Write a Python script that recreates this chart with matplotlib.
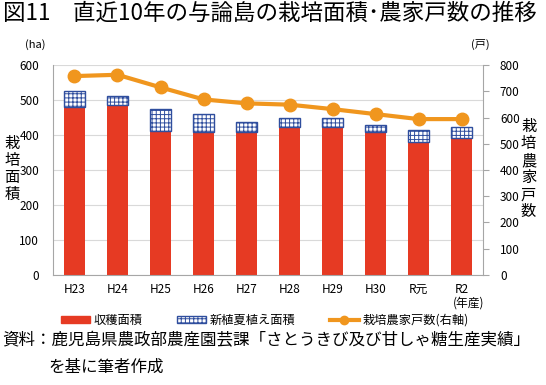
import matplotlib
matplotlib.use("Agg")
import matplotlib.pyplot as plt
from matplotlib.patches import Patch
from matplotlib.lines import Line2D
import numpy as np

plt.rcParams['font.family'] = ['Noto Sans CJK JP', 'DejaVu Sans']
plt.rcParams['hatch.linewidth'] = 0.7

years = ['H23', 'H24', 'H25', 'H26', 'H27', 'H28', 'H29', 'H30', 'R元', 'R2']
harvest = [481, 487, 412, 408, 410, 423, 422, 408, 379, 392]
total_area = [526, 511, 474, 460, 437, 448, 448, 428, 414, 422]
new_planting = [t - h for t, h in zip(total_area, harvest)]
farmers = [758, 763, 715, 669, 654, 649, 632, 613, 594, 594]

red = '#E63A23'
blue = '#2F4E9E'
orange = '#F0961E'
gray = '#A6A6A6'

fig = plt.figure(figsize=(5.46, 3.85), dpi=100)
ax = fig.add_axes([0.097, 0.286, 0.788, 0.545])
x = np.arange(len(years))
w = 0.49
ax.bar(x, harvest, width=w, color=red, zorder=2)
ax.bar(x, new_planting, width=w, bottom=harvest, facecolor='white',
       edgecolor=blue, hatch='++++', linewidth=1.0, zorder=2)
ax.set_ylim(0, 600)
ax.set_yticks(range(0, 601, 100))
ax.set_xlim(-0.5, len(years) - 0.5)
ax.set_xticks(x)
ax.set_xticklabels(years, fontsize=8)
ax.tick_params(axis='y', length=0, labelsize=8.5, pad=10)
ax.tick_params(axis='x', length=0, labelsize=8.5, pad=6)
ax.grid(axis='y', color='#D9D9D9', linewidth=0.8, zorder=0)
for s in ['top', 'right']:
    ax.spines[s].set_visible(False)
ax.spines['left'].set_color(gray)
ax.spines['bottom'].set_color(gray)

ax2 = ax.twinx()
ax2.plot(x, farmers, color=orange, linewidth=3, marker='o', markersize=9, zorder=3)
ax2.set_ylim(0, 800)
ax2.set_yticks(range(0, 801, 100))
ax2.tick_params(axis='y', length=4, color=gray, labelsize=8.5, pad=8)
for s in ['top', 'left', 'bottom']:
    ax2.spines[s].set_visible(False)
ax2.spines['right'].set_color(gray)

fig.text(0.005, 0.995, '図11　直近10年の与論島の栽培面積･農家戸数の推移',
         fontsize=16.2, ha='left', va='top')
fig.text(0.045, 0.885, '(ha)', fontsize=8, ha='left', va='center')
fig.text(0.862, 0.885, '(戸)', fontsize=8, ha='left', va='center')
fig.text(0.022, 0.56, '栽\n培\n面\n積', fontsize=11, ha='center', va='center',
         linespacing=1.0)
fig.text(0.968, 0.56, '栽\n培\n農\n家\n戸\n数', fontsize=11, ha='center', va='center',
         linespacing=1.0)
fig.text(0.83, 0.213, '(年産)', fontsize=8.5, ha='left', va='center')

handles = [Patch(facecolor=red, edgecolor=red),
           Patch(facecolor='white', edgecolor=blue, hatch='++++'),
           Line2D([0], [0], color=orange, linewidth=3, marker='o', markersize=6)]
labels = ['収穫面積', '新植夏植え面積', '栽培農家戸数(右軸)']
fig.legend(handles, labels, loc='center', bbox_to_anchor=(0.485, 0.168), ncol=3,
           frameon=False, fontsize=8.8, handlelength=2.4, handleheight=0.6,
           handletextpad=0.3, columnspacing=2.8)

fig.text(0.005, 0.115, '資料：鹿児島県農政部農産園芸課「さとうきび及び甘しゃ糖生産実績」',
         fontsize=11.9, ha='left', va='center')
fig.text(0.088, 0.045, 'を基に筆者作成', fontsize=11.9, ha='left', va='center')

fig.savefig('out.png', dpi=100)
